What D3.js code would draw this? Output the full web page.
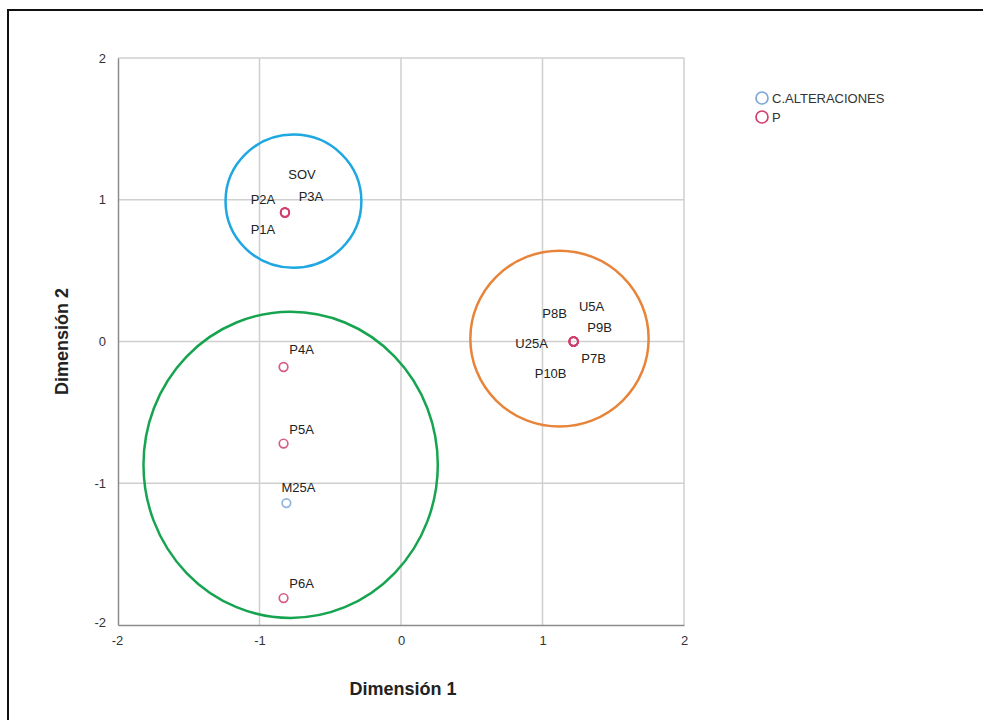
<!DOCTYPE html>
<html>
<head>
<meta charset="utf-8">
<script src="https://cdn.jsdelivr.net/npm/d3@7"></script>
<style>
  html, body { margin: 0; padding: 0; background: #fff; }
  svg { display: block; font-family: "Liberation Sans", Arial, sans-serif; }
</style>
</head>
<body>
<svg id="chart" width="983" height="720"></svg>
<script>
// ---- data ----
const pointNames  = ["SOV", "P2A", "P3A", "P1A", "U5A", "P8B", "P9B", "U25A", "P7B", "P10B", "P4A", "P5A", "M25A", "P6A"];
const pointGroup  = ["P", "P", "P", "P", "P", "P", "P", "P", "P", "P", "P", "P", "C.ALTERACIONES", "P"];
const dim1Values  = [-0.82, -0.82, -0.82, -0.82, 1.22, 1.22, 1.22, 1.22, 1.22, 1.22, -0.83, -0.83, -0.81, -0.83];
const dim2Values  = [0.91, 0.91, 0.91, 0.91, 0.00, 0.00, 0.00, 0.00, 0.00, 0.00, -0.18, -0.72, -1.14, -1.81];
const legendLabels = ["C.ALTERACIONES", "P"];
const xTicks = [-2, -1, 0, 1, 2];
const yTicks = [-2, -1, 0, 1, 2];
// annotation circles (data units): centre x, centre y, radius x, radius y
const clusterCx = [-0.76, 1.12, -0.78];
const clusterCy = [0.99, 0.02, -0.87];
const clusterRx = [0.48, 0.63, 1.04];
const clusterRy = [0.47, 0.62, 1.08];
const xTitle = "Dimensión 1";
const yTitle = "Dimensión 2";

// ---- layout / style ----
const plot = { left: 118, right: 684, top: 58, bottom: 625 };
const groupColor = { "C.ALTERACIONES": "#7ea7d8", "P": "#d0406c" };
const clusterColor = ["#1ea7e1", "#e8843a", "#17a450"];
// label offsets from point (px): dx to label centre, dy to baseline
const labelOffset = {
  SOV: [17, -34], P2A: [-22, -9], P3A: [26, -12], P1A: [-22, 21],
  U5A: [18, -31], P8B: [-19, -24], P9B: [26, -10], U25A: [-42, 6], P7B: [20, 21], P10B: [-23, 36],
  P4A: [18, -13], P5A: [18, -10], M25A: [12, -11], P6A: [18, -10]
};

const svg = d3.select("#chart");
const x = d3.scaleLinear().domain([-2, 2]).range([plot.left, plot.right]);
const y = d3.scaleLinear().domain([-2, 2]).range([plot.bottom, plot.top]);
const fmt = d => String(d);  // plain hyphen-minus like the reference

// outer frame
svg.append("rect").attr("x", 8).attr("y", 10).attr("width", 1000).attr("height", 740)
  .attr("fill", "none").attr("stroke", "#111").attr("stroke-width", 2);

// gridlines
const grid = svg.append("g");
grid.selectAll("line.vx").data(xTicks.filter(d => d !== -2)).join("line")
  .attr("x1", d => x(d)).attr("x2", d => x(d)).attr("y1", plot.top).attr("y2", plot.bottom)
  .attr("stroke", "#cfcfcf").attr("stroke-width", 1.5);
grid.selectAll("line.hy").data(yTicks.filter(d => d !== -2)).join("line")
  .attr("x1", plot.left).attr("x2", plot.right).attr("y1", d => y(d)).attr("y2", d => y(d))
  .attr("stroke", "#cfcfcf").attr("stroke-width", 1.5);

// axes
const xAxis = svg.append("g").attr("transform", `translate(0,${plot.bottom})`)
  .call(d3.axisBottom(x).tickValues(xTicks).tickFormat(fmt).tickSize(0).tickPadding(11));
const yAxis = svg.append("g").attr("transform", `translate(${plot.left},0)`)
  .call(d3.axisLeft(y).tickValues(yTicks).tickFormat(fmt).tickSize(0).tickPadding(12));
[xAxis, yAxis].forEach(a => {
  a.select(".domain").attr("stroke", "#8c8c8c").attr("stroke-width", 1.5);
  a.selectAll("text").attr("font-size", 13).attr("fill", "#333")
    .attr("font-family", "'Liberation Sans', Arial, sans-serif");
});
xAxis.selectAll(".tick").filter(d => d === -2).select("text").attr("dx", -1);
yAxis.selectAll(".tick").filter(d => d === -2).select("text").attr("dy", "0.1em");

// axis titles
svg.append("text").attr("x", (plot.left + plot.right) / 2 + 2).attr("y", 695)
  .attr("text-anchor", "middle").attr("font-size", 18).attr("font-weight", "bold")
  .attr("fill", "#222").text(xTitle);
svg.append("text").attr("transform", `translate(68,${(plot.top + plot.bottom) / 2}) rotate(-90)`)
  .attr("text-anchor", "middle").attr("font-size", 18).attr("font-weight", "bold")
  .attr("fill", "#222").text(yTitle);

// cluster circles
svg.append("g").selectAll("ellipse").data(clusterCx.map((d, i) => i)).join("ellipse")
  .attr("cx", i => x(clusterCx[i])).attr("cy", i => y(clusterCy[i]))
  .attr("rx", i => x(clusterRx[i]) - x(0)).attr("ry", i => y(0) - y(clusterRy[i]))
  .attr("fill", "none").attr("stroke", i => clusterColor[i]).attr("stroke-width", 2.5);

// points (blue first so pink on top)
const pts = pointNames.map((n, i) => ({ name: n, group: pointGroup[i], x: dim1Values[i], y: dim2Values[i] }));
const ordered = pts.slice().sort((a, b) => (a.group === "P") - (b.group === "P"));
svg.append("g").selectAll("circle").data(ordered).join("circle")
  .attr("cx", d => x(d.x)).attr("cy", d => y(d.y)).attr("r", 4.3)
  .attr("fill", "none").attr("stroke", d => groupColor[d.group])
  .attr("stroke-width", 1.7).attr("stroke-opacity", 0.85);

// point labels
svg.append("g").selectAll("text").data(pts).join("text")
  .attr("x", d => x(d.x) + labelOffset[d.name][0])
  .attr("y", d => y(d.y) + labelOffset[d.name][1])
  .attr("text-anchor", "middle").attr("font-size", 13).attr("fill", "#222")
  .text(d => d.name);

// legend
const lg = svg.append("g").selectAll("g").data(legendLabels).join("g")
  .attr("transform", (d, i) => `translate(762,${98 + i * 19})`);
lg.append("circle").attr("r", 6).attr("fill", "none")
  .attr("stroke", d => groupColor[d]).attr("stroke-width", 1.7);
lg.append("text").attr("x", 10).attr("y", 5).attr("font-size", 13).attr("fill", "#333")
  .text(d => d);
</script>
</body>
</html>
